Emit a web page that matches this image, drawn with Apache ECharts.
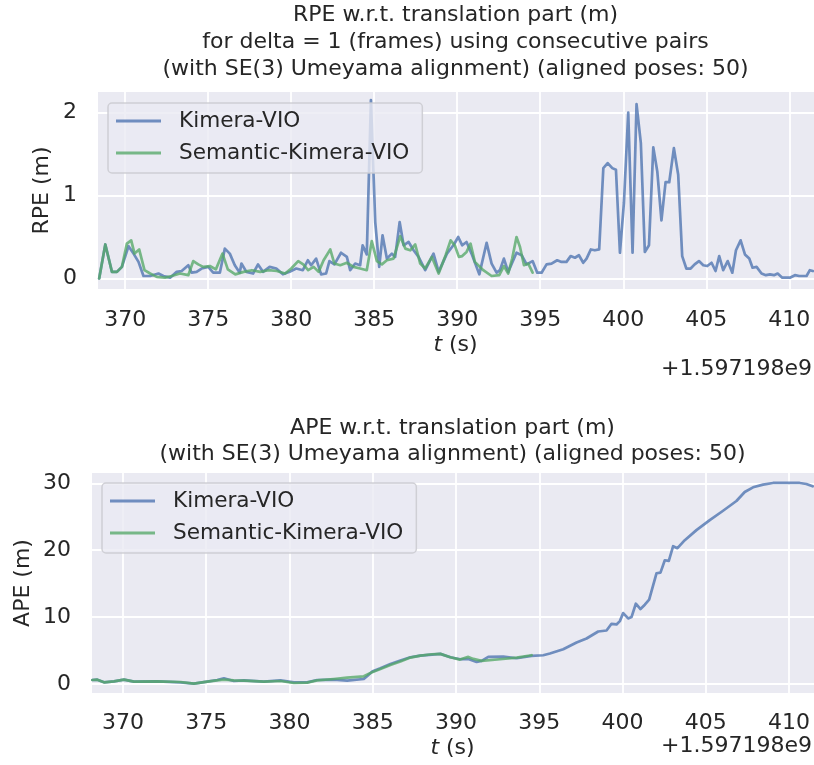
<!DOCTYPE html>
<html><head><meta charset="utf-8">
<script src="https://cdn.jsdelivr.net/npm/echarts@6/dist/echarts.min.js"></script>
<style>html,body{margin:0;padding:0;background:#fff}#c{width:814px;height:765px}</style>
</head><body><div id="c"></div>
<script>
// ---------- data ----------
const xTicks = [370, 375, 380, 385, 390, 395, 400, 405, 410];
const rpeTicks = [0, 1, 2];
const apeTicks = [0, 10, 20, 30];
const seriesNames = ['Kimera-VIO', 'Semantic-Kimera-VIO'];

const kimeraRpeT = [368.43,368.8,369.2,369.5,369.8,370.2,370.5,370.8,371.1,371.5,372.0,372.3,372.7,373.1,373.4,373.8,374.0,374.3,374.6,375.0,375.3,375.7,376.0,376.3,376.6,376.9,377.0,377.3,377.7,378.0,378.3,378.7,379.1,379.5,379.9,380.3,380.7,381.0,381.2,381.5,381.8,382.1,382.3,382.6,383.0,383.35,383.55,383.85,384.15,384.3,384.55,384.8,385.06,385.3,385.5,385.76,386.06,386.26,386.53,386.77,387.07,387.37,387.67,388.07,388.57,388.88,389.38,389.8,390.06,390.3,390.56,390.86,391.33,391.77,392.07,392.37,392.57,392.81,393.07,393.57,393.88,394.18,394.54,394.82,395.08,395.38,395.68,396.02,396.28,396.58,396.83,397.09,397.33,397.59,397.79,398.05,398.29,398.55,398.8,399.06,399.34,399.56,399.8,400.04,400.3,400.56,400.8,401.06,401.3,401.55,401.81,402.05,402.3,402.55,402.77,403.05,403.31,403.55,403.8,404.06,404.3,404.56,404.82,405.06,405.32,405.56,405.78,406.02,406.29,406.57,406.79,407.07,407.33,407.59,407.79,408.03,408.33,408.59,408.84,409.08,409.3,409.58,410.04,410.34,410.6,411.04,411.24,411.42];
const kimeraRpeV = [0.0,0.41,0.08,0.08,0.14,0.39,0.30,0.20,0.03,0.03,0.06,0.03,0.01,0.08,0.09,0.16,0.07,0.08,0.12,0.14,0.07,0.07,0.36,0.30,0.16,0.07,0.18,0.08,0.06,0.17,0.08,0.14,0.12,0.05,0.08,0.12,0.10,0.22,0.16,0.24,0.05,0.06,0.21,0.17,0.31,0.26,0.10,0.18,0.16,0.40,0.29,2.15,0.68,0.14,0.52,0.24,0.30,0.26,0.68,0.40,0.44,0.34,0.26,0.10,0.30,0.08,0.30,0.41,0.50,0.40,0.44,0.30,0.05,0.43,0.18,0.07,0.10,0.24,0.08,0.31,0.28,0.17,0.21,0.07,0.07,0.17,0.18,0.22,0.20,0.20,0.27,0.25,0.28,0.19,0.24,0.35,0.34,0.35,1.33,1.39,1.33,1.31,0.31,0.91,2.00,0.31,2.10,1.63,0.32,0.40,1.58,1.29,0.70,1.16,1.16,1.57,1.25,0.27,0.12,0.12,0.17,0.21,0.16,0.15,0.19,0.09,0.27,0.10,0.21,0.07,0.34,0.46,0.29,0.24,0.13,0.14,0.06,0.04,0.05,0.04,0.06,0.01,0.01,0.04,0.03,0.03,0.10,0.09];

const semanticRpeT = [368.43,368.8,369.2,369.5,369.8,370.1,370.36,370.56,370.84,371.16,371.5,371.9,372.4,372.8,373.3,373.8,374.1,374.4,374.7,375.1,375.46,375.86,376.18,376.63,377.13,377.63,378.13,378.63,379.13,379.63,380.0,380.42,380.72,381.02,381.35,381.65,381.95,382.35,382.6,382.95,383.35,383.75,384.15,384.55,384.85,385.16,385.46,385.76,386.16,386.57,386.87,387.17,387.47,387.77,388.07,388.47,388.88,389.3,389.6,389.85,390.1,390.3,390.56,390.8,391.06,391.57,392.07,392.53,392.81,393.07,393.31,393.57,393.78,394.02,394.28,394.54];
const semanticRpeV = [0.0,0.41,0.08,0.08,0.14,0.42,0.46,0.30,0.35,0.10,0.06,0.02,0.01,0.03,0.06,0.04,0.21,0.17,0.14,0.15,0.11,0.30,0.11,0.05,0.08,0.10,0.08,0.10,0.09,0.06,0.12,0.21,0.17,0.10,0.14,0.08,0.22,0.35,0.18,0.16,0.19,0.14,0.12,0.10,0.45,0.21,0.17,0.22,0.24,0.51,0.36,0.34,0.41,0.18,0.12,0.26,0.06,0.28,0.46,0.40,0.26,0.27,0.32,0.42,0.20,0.10,0.03,0.04,0.15,0.06,0.24,0.50,0.38,0.16,0.18,0.07];

const kimeraApeT = [368.16,368.46,368.86,369.46,370.06,370.66,372.06,373.46,374.26,375.06,375.66,376.06,376.66,377.26,378.46,379.46,380.26,381.06,381.66,382.66,383.46,384.46,384.66,384.96,385.46,386.06,386.66,387.26,387.86,388.56,389.06,389.66,390.24,390.74,391.24,391.54,391.94,392.84,393.64,394.54,395.24,395.64,396.44,397.24,397.84,398.54,399.04,399.34,399.64,399.84,400.04,400.34,400.54,400.8,401.08,401.34,401.6,402.04,402.28,402.54,402.78,403.04,403.3,403.74,404.44,405.24,406.04,406.84,407.34,407.84,408.44,409.04,409.64,410.64,411.04,411.42];
const kimeraApeV = [0.6,0.65,0.25,0.4,0.65,0.35,0.4,0.25,0.05,0.35,0.6,0.85,0.45,0.55,0.35,0.55,0.25,0.25,0.6,0.65,0.5,0.75,1.15,1.85,2.35,3.0,3.5,4.0,4.25,4.4,4.5,4.0,3.7,3.75,3.3,3.45,4.05,4.1,3.85,4.2,4.3,4.55,5.2,6.2,6.8,7.85,8.0,9.0,8.9,9.4,10.6,9.8,10.0,12.0,11.2,11.85,12.6,16.55,16.65,18.5,18.4,20.6,20.3,21.5,23.0,24.5,25.9,27.35,28.7,29.4,29.8,30.05,30.05,30.05,29.9,29.55];

const semanticApeT = [368.16,368.46,368.86,369.46,370.06,370.66,372.06,373.46,374.26,375.06,375.66,376.06,376.66,377.26,378.46,379.46,380.26,381.06,381.66,382.66,383.46,384.46,384.96,385.46,386.06,386.66,387.26,387.86,388.56,389.06,389.66,390.24,390.74,391.04,391.54,392.64,393.64,394.54];
const semanticApeV = [0.6,0.65,0.25,0.4,0.65,0.35,0.4,0.3,0.05,0.35,0.55,0.65,0.55,0.5,0.35,0.45,0.15,0.2,0.55,0.75,0.95,1.15,1.75,2.25,2.85,3.35,3.95,4.25,4.45,4.5,4.0,3.65,4.05,3.75,3.45,3.7,3.95,4.3];

// ---------- styling ----------
const FONT = '"DejaVu Sans", "Liberation Sans", sans-serif';
const TXT = '#262626';
const BLUE = 'rgba(76,114,176,0.78)';
const GREEN = 'rgba(85,168,104,0.78)';
const zip = (t, v) => t.map((x, i) => [x, v[i]]);

function xAxisCfg(gi, min, max, margin) {
  return {
    type: 'value', gridIndex: gi, min: min, max: max,
    axisLine: { show: false },
    axisTick: { show: false, customValues: xTicks },
    axisLabel: { customValues: xTicks, fontSize: 22, color: TXT, fontFamily: FONT, margin: margin },
    splitLine: { show: true, lineStyle: { color: '#ffffff', width: 1.8 } }
  };
}
function yAxisCfg(gi, min, max, ticks) {
  return {
    type: 'value', gridIndex: gi, min: min, max: max,
    axisLine: { show: false },
    axisTick: { show: false, customValues: ticks },
    axisLabel: { customValues: ticks, fontSize: 22, color: TXT, fontFamily: FONT, margin: 21 },
    splitLine: { show: true, lineStyle: { color: '#ffffff', width: 1.8 } }
  };
}
function legendCfg(left, top) {
  return {
    left: left, top: top, orient: 'vertical',
    data: seriesNames,
    icon: 'rect', itemWidth: 45, itemHeight: 2.8, itemGap: 0,
    padding: [2, 13, 4, 8],
    backgroundColor: 'rgba(234,234,242,0.8)',
    borderColor: 'rgba(204,204,210,0.9)', borderWidth: 1.5, borderRadius: 4,
    selectedMode: false,
    textStyle: { fontSize: 21.6, color: TXT, fontFamily: FONT, lineHeight: 32, padding: [0, 0, 0, 13] }
  };
}
function lineSeries(name, xi, data, color) {
  return {
    name: name, type: 'line', xAxisIndex: xi, yAxisIndex: xi, data: data,
    symbol: 'none', showSymbol: false, color: color,
    lineStyle: { width: 2.7, color: color, join: 'round', cap: 'round' }, emphasis: { disabled: true }, silent: true
  };
}
function txt(x, y, text, opts) {
  opts = opts || {};
  return {
    type: 'text', x: x, y: y, rotation: opts.rot || 0, silent: true,
    style: Object.assign({
      text: text, fill: TXT, fontSize: opts.size || 22, fontFamily: FONT,
      align: opts.align || 'center', textAlign: opts.align || 'center',
      verticalAlign: 'middle', textVerticalAlign: 'middle'
    }, opts.rich ? { rich: opts.rich } : {})
  };
}
const italicRich = { it: { fontStyle: 'italic', fontSize: 22, fontFamily: FONT, fill: TXT }, n: { fontSize: 22, fontFamily: FONT, fill: TXT } };

const chart = echarts.init(document.getElementById('c'), null, { renderer: 'canvas' });
chart.setOption({
  animation: false,
  backgroundColor: '#ffffff',
  grid: [
    { left: 98, top: 92, right: 0, height: 197, show: true, backgroundColor: '#EAEAF2', borderWidth: 0 },
    { left: 92, top: 473, right: 0, height: 220, show: true, backgroundColor: '#EAEAF2', borderWidth: 0 }
  ],
  xAxis: [xAxisCfg(0, 368.36, 411.49, 20), xAxisCfg(1, 368.14, 411.5, 19)],
  yAxis: [yAxisCfg(0, -0.1265, 2.247, rpeTicks), yAxisCfg(1, -1.345, 31.54, apeTicks)],
  legend: [legendCfg(108, 103), legendCfg(102, 483)],
  series: [
    lineSeries(seriesNames[0], 0, zip(kimeraRpeT, kimeraRpeV), BLUE),
    lineSeries(seriesNames[1], 0, zip(semanticRpeT, semanticRpeV), GREEN),
    lineSeries(seriesNames[0], 1, zip(kimeraApeT, kimeraApeV), BLUE),
    lineSeries(seriesNames[1], 1, zip(semanticApeT, semanticApeV), GREEN)
  ],
  graphic: [
    txt(455.5, 15, 'RPE w.r.t. translation part (m)'),
    txt(455.5, 42, 'for delta = 1 (frames) using consecutive pairs'),
    txt(455.5, 69, '(with SE(3) Umeyama alignment) (aligned poses: 50)'),
    txt(452.5, 428, 'APE w.r.t. translation part (m)'),
    txt(452.5, 454, '(with SE(3) Umeyama alignment) (aligned poses: 50)'),
    txt(42, 190.5, 'RPE (m)', { rot: Math.PI / 2 }),
    txt(23, 583, 'APE (m)', { rot: Math.PI / 2 }),
    txt(455.5, 345, '{it|t}{n| (s)}', { rich: italicRich }),
    txt(452.5, 748, '{it|t}{n| (s)}', { rich: italicRich }),
    txt(812, 369, '+1.597198e9', { align: 'right' }),
    txt(812, 746, '+1.597198e9', { align: 'right' })
  ]
});
</script>
</body></html>
